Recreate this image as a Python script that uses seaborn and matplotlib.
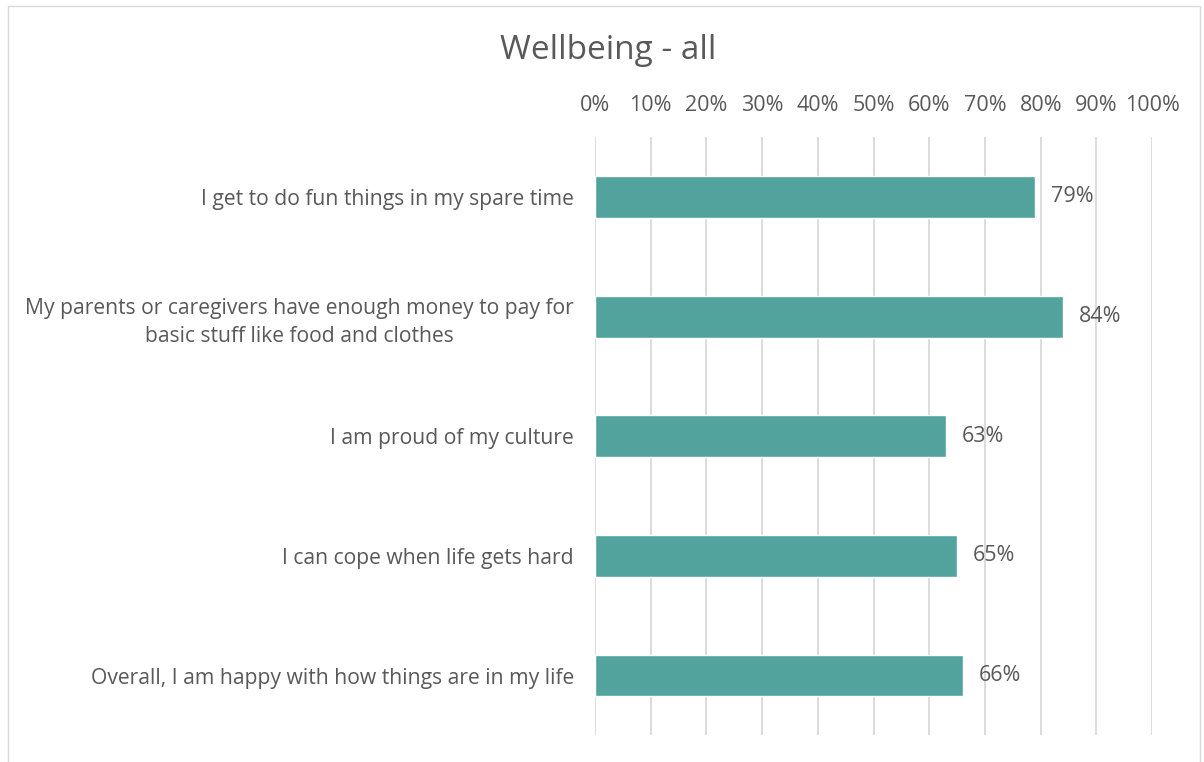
import matplotlib.pyplot as plt
import matplotlib.patches as patches
import matplotlib.ticker as mticker
import pandas as pd
import seaborn as sns

statements = [
    'I get to do fun things in my spare time',
    'My parents or caregivers have enough money to pay for\nbasic stuff like food and clothes',
    'I am proud of my culture',
    'I can cope when life gets hard',
    'Overall, I am happy with how things are in my life',
]
percent_agree = [79, 84, 63, 65, 66]

df = pd.DataFrame({'statement': statements, 'pct': percent_agree})

sns.set_theme(style='white')
plt.rcParams['font.family'] = ['Open Sans', 'DejaVu Sans']

text_col = '#595959'
bar_col = '#52A39D'

fig = plt.figure(figsize=(12.04, 7.62), dpi=100)
ax = fig.add_axes([0.494, 0.035, 0.463, 0.785])

sns.barplot(data=df, x='pct', y='statement', color=bar_col, width=0.35,
            saturation=1, ax=ax, zorder=2)

ax.set_xlim(0, 100)
ax.set_ylim(4.5, -0.5)
ax.xaxis.set_major_locator(mticker.MultipleLocator(10))
ax.xaxis.set_major_formatter(mticker.FuncFormatter(lambda v, p: f'{v:.0f}%'))
ax.xaxis.tick_top()
ax.grid(axis='x', color='#d9d9d9', linewidth=1.3, zorder=0)
ax.grid(axis='y', visible=False)
for s in ax.spines.values():
    s.set_visible(False)
ax.tick_params(axis='x', length=0, pad=15, labelsize=15.5, labelcolor=text_col)
ax.tick_params(axis='y', length=0, pad=15, labelsize=15.2, labelcolor=text_col)
for lbl in ax.get_yticklabels():
    lbl.set_multialignment('center')
    lbl.set_linespacing(1.45)
ax.set_xlabel('')
ax.set_ylabel('')

# value labels
for i, v in enumerate(percent_agree):
    ax.text(v + 2.8, i, f'{v}%', va='center', ha='left', fontsize=15.5, color=text_col)

fig.suptitle('Wellbeing - all', x=0.505, y=0.955, fontsize=24, color=text_col)

# light border around chart area
fig.patches.append(patches.Rectangle((0.007, -0.01), 0.99, 1.002, transform=fig.transFigure,
                                     fill=False, edgecolor='#d9d9d9', linewidth=1))

fig.savefig('out.png', dpi=100)
